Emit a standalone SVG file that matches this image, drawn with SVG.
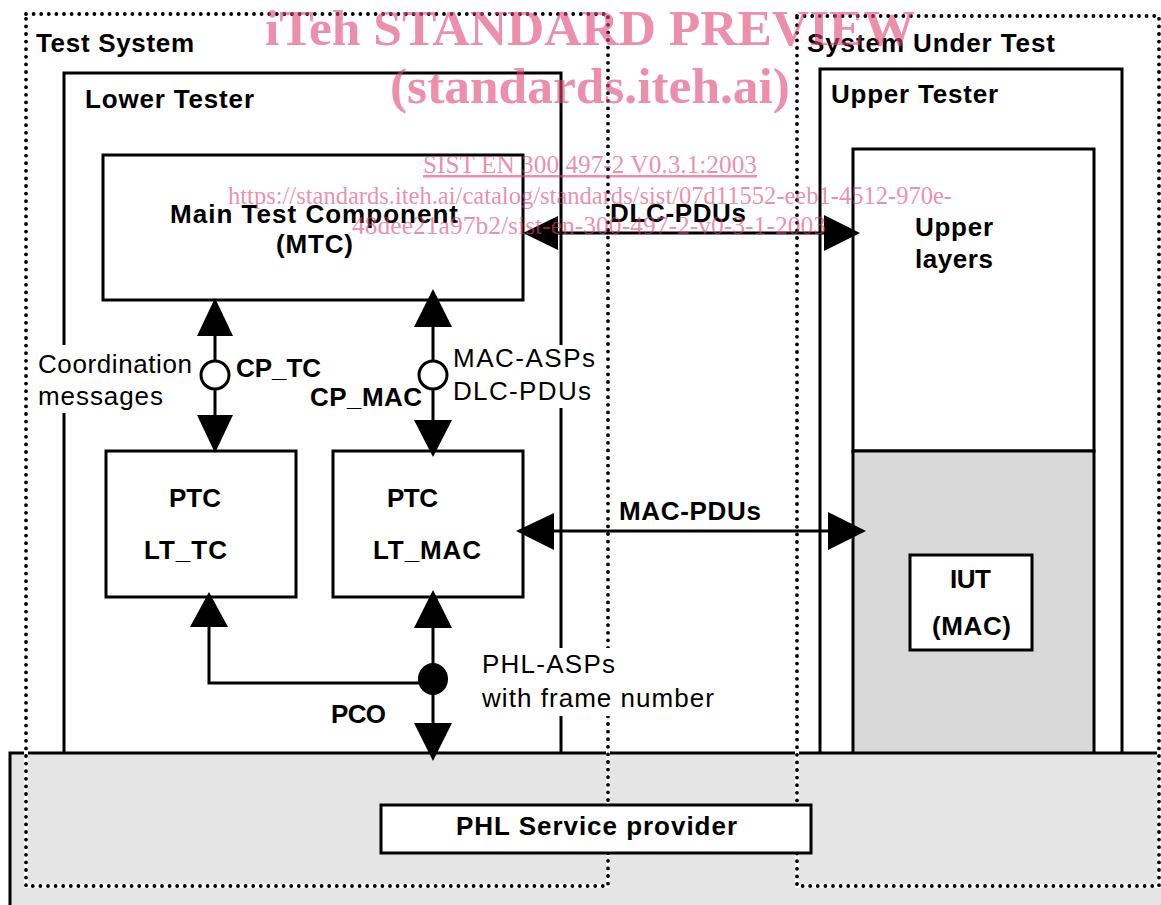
<svg xmlns="http://www.w3.org/2000/svg" width="1161" height="905" viewBox="0 0 1161 905">
<defs>
<style>
.box{fill:#fff;stroke:#000;stroke-width:3}
.frame{fill:none;stroke:#000;stroke-width:3.8;stroke-dasharray:0 7.6;stroke-linecap:round}
.frameBg{fill:none;stroke:#fff;stroke-width:4}
.ln{fill:none;stroke:#000;stroke-width:3}
.ah{fill:#000;stroke:none}
.b{font-family:"Liberation Sans",Arial,sans-serif;font-weight:bold;font-size:26px;fill:#000}
.r{font-family:"Liberation Sans",Arial,sans-serif;font-weight:normal;font-size:26px;fill:#000}
.wm{font-family:"Liberation Serif","Times New Roman",serif;fill:#df4473;fill-opacity:0.6}
.wmb{font-weight:bold;font-size:51px}
.wms{font-weight:normal;font-size:25px}
</style>
</defs>
<rect width="1161" height="905" fill="#fff"/>

<g id="lower-tester">
<rect class="box" x="64" y="73" width="497" height="690"/>
<text class="b" x="85" y="108" textLength="169" lengthAdjust="spacing">Lower Tester</text>
</g>
<g id="upper-tester">
<rect class="box" x="820" y="69" width="302" height="690"/>
<text class="b" x="831" y="103" textLength="167" lengthAdjust="spacing">Upper Tester</text>
</g>
<g id="upper-layers">
<rect class="box" x="853" y="149" width="241" height="302"/>
<text class="b" x="915" y="236" textLength="78" lengthAdjust="spacing">Upper</text>
<text class="b" x="915" y="268" textLength="78" lengthAdjust="spacing">layers</text>
</g>
<g id="iut-layer">
<rect class="box" x="853" y="451" width="241" height="310" style="fill:#d9d9d9"/>
</g>
<g id="iut">
<rect class="box" x="910" y="555" width="122" height="95"/>
<text class="b" x="950" y="588" textLength="41" lengthAdjust="spacing">IUT</text>
<text class="b" x="932" y="635" textLength="79" lengthAdjust="spacing">(MAC)</text>
</g>
<g id="mtc">
<rect class="box" x="103" y="155" width="420" height="145"/>
<text class="b" x="170" y="223" textLength="288" lengthAdjust="spacing">Main Test Component</text>
<text class="b" x="276" y="253" textLength="77" lengthAdjust="spacing">(MTC)</text>
</g>
<g id="ptc-lt-tc">
<rect class="box" x="106" y="451" width="190" height="146"/>
<text class="b" x="169" y="507" textLength="52" lengthAdjust="spacing">PTC</text>
<text class="b" x="144" y="559" textLength="83" lengthAdjust="spacing">LT_TC</text>
</g>
<g id="ptc-lt-mac">
<rect class="box" x="333" y="451" width="190" height="146"/>
<text class="b" x="387" y="507" textLength="51" lengthAdjust="spacing">PTC</text>
<text class="b" x="373" y="559" textLength="108" lengthAdjust="spacing">LT_MAC</text>
</g>

<g id="phl-area">
<rect x="10" y="753" width="1160" height="160" fill="#e5e5e5" stroke="#000" stroke-width="3"/>
</g>

<g id="test-system">
<rect class="frameBg" x="26" y="14" width="582" height="872"/>
<rect class="frame" x="26" y="14" width="582" height="872"/>
<text class="b" x="36" y="52" textLength="158" lengthAdjust="spacing">Test System</text>
</g>
<g id="system-under-test">
<rect class="frameBg" x="797" y="16" width="362" height="870"/>
<rect class="frame" x="797" y="16" width="362" height="870"/>
<text class="b" x="807" y="52" textLength="248" lengthAdjust="spacing">System Under Test</text>
</g>

<g id="phl-service-provider">
<rect class="box" x="381" y="805" width="430" height="48"/>
<text class="b" x="456" y="835" textLength="281" lengthAdjust="spacing">PHL Service provider</text>
</g>

<g id="connectors">
<line class="ln" x1="540" y1="233" x2="840" y2="233"/>
<polygon class="ah" points="523,233 558,216 558,250"/>
<polygon class="ah" points="860,233 824,215 824,251"/>
<line class="ln" x1="540" y1="531" x2="850" y2="531"/>
<polygon class="ah" points="516,531 554,513 554,550"/>
<polygon class="ah" points="866,531 828,512 828,550"/>
<line class="ln" x1="215" y1="320" x2="215" y2="430"/>
<polygon class="ah" points="215,298 197,336 233,336"/>
<polygon class="ah" points="215,453 197,415 233,415"/>
<circle cx="215" cy="375" r="14" fill="#fff" stroke="#000" stroke-width="3"/>
<line class="ln" x1="433" y1="310" x2="433" y2="435"/>
<polygon class="ah" points="433,289 414,327 452,327"/>
<polygon class="ah" points="433,457 414,420 452,420"/>
<circle cx="433" cy="375" r="14" fill="#fff" stroke="#000" stroke-width="3"/>
<line class="ln" x1="433" y1="610" x2="433" y2="740"/>
<polyline class="ln" points="433,683 209,683 209,615"/>
<polygon class="ah" points="433,590 414,628 452,628"/>
<polygon class="ah" points="433,761 414,723 452,723"/>
<polygon class="ah" points="209,592 190,627 228,627"/>
<ellipse cx="433" cy="679" rx="15" ry="16" fill="#000"/>
</g>

<g id="labels">
<rect x="34" y="345" width="162" height="68" fill="#fff"/>
<text class="r" x="38" y="373" textLength="154" lengthAdjust="spacing">Coordination</text>
<text class="r" x="38" y="405" textLength="125" lengthAdjust="spacing">messages</text>
<text class="b" x="236" y="377" textLength="85" lengthAdjust="spacing">CP_TC</text>
<text class="b" x="310" y="406" textLength="112" lengthAdjust="spacing">CP_MAC</text>
<rect x="450" y="345" width="150" height="63" fill="#fff"/>
<text class="r" x="453" y="367" textLength="142" lengthAdjust="spacing">MAC-ASPs</text>
<text class="r" x="453" y="400" textLength="138" lengthAdjust="spacing">DLC-PDUs</text>
<text class="b" x="610" y="222" textLength="136" lengthAdjust="spacing">DLC-PDUs</text>
<text class="b" x="619" y="520" textLength="142" lengthAdjust="spacing">MAC-PDUs</text>
<rect x="478" y="648" width="243" height="68" fill="#fff"/>
<text class="r" x="482" y="673" textLength="133" lengthAdjust="spacing">PHL-ASPs</text>
<text class="r" x="482" y="707" textLength="232" lengthAdjust="spacing">with frame number</text>
<text class="b" x="331" y="723" textLength="55" lengthAdjust="spacing">PCO</text>
</g>

<g id="watermark" class="wm">
<text class="wmb" x="265" y="45" textLength="650" lengthAdjust="spacingAndGlyphs">iTeh STANDARD PREVIEW</text>
<text class="wmb" x="390" y="103" textLength="400" lengthAdjust="spacingAndGlyphs">(standards.iteh.ai)</text>
<text class="wms" x="423" y="173" textLength="334" lengthAdjust="spacingAndGlyphs" text-decoration="underline">SIST EN 300 497-2 V0.3.1:2003</text>
<text class="wms" x="228" y="204" textLength="724" lengthAdjust="spacingAndGlyphs">https://standards.iteh.ai/catalog/standards/sist/07d11552-eeb1-4512-970e-</text>
<text class="wms" x="352" y="234" textLength="474" lengthAdjust="spacingAndGlyphs">48dee21a97b2/sist-en-300-497-2-v0-3-1-2003</text>
</g>
</svg>
